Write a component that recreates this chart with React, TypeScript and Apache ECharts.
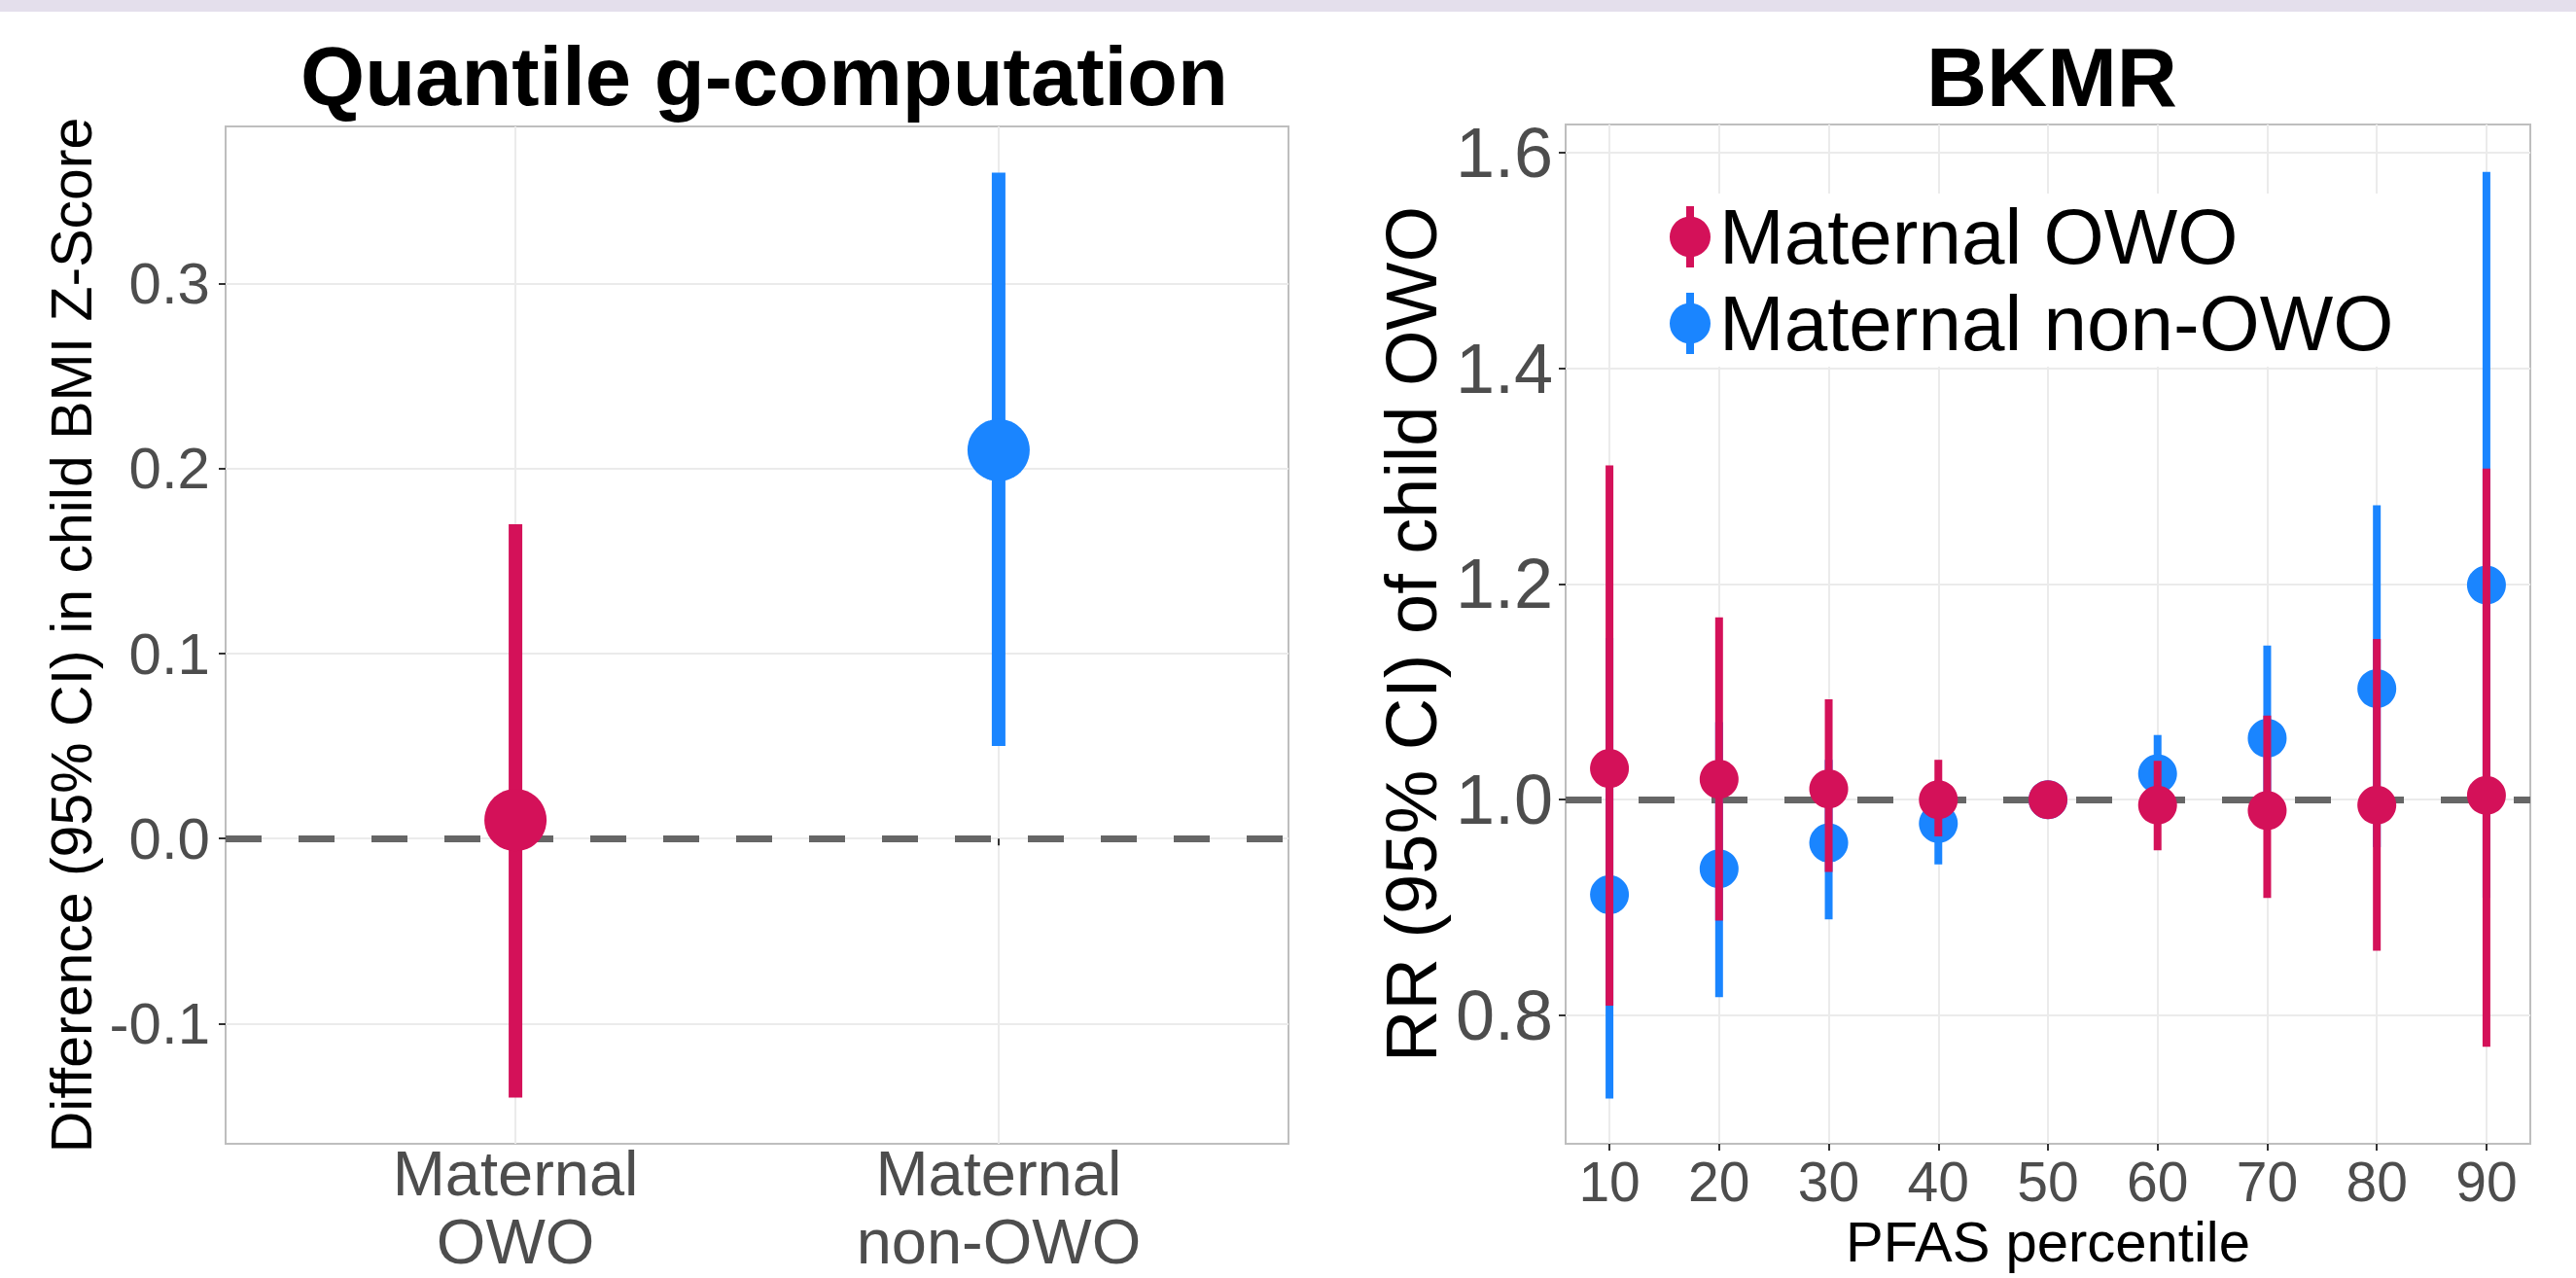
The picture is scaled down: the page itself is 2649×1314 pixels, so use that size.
import React, { useEffect, useRef } from "react";
import * as echarts from "echarts";

const W = 2649;
const H = 1314;
const RED = "#D41159";
const BLUE = "#1A85FF";
const FONT = "'Liberation Sans', Arial, Helvetica, sans-serif";
const TICK_GREY = "#4D4D4D";

// ---- Left panel: Quantile g-computation ----
const leftTitle = "Quantile g-computation";
const qgcCategories = ["Maternal\nOWO", "Maternal\nnon-OWO"];
const qgcEstimate = [0.01, 0.21];
const qgcLower = [-0.14, 0.05];
const qgcUpper = [0.17, 0.36];
const qgcYTicks = [-0.1, 0, 0.1, 0.2, 0.3];
const qgcReference = 0;
const qgcYName = "Difference (95% CI) in child BMI Z-Score";

// ---- Right panel: BKMR ----
const rightTitle = "BKMR";
const groupNames = ["Maternal OWO", "Maternal non-OWO"];
const percentiles = [10, 20, 30, 40, 50, 60, 70, 80, 90];
const owoEstimate = [1.029, 1.019, 1.01, 1.0, 1.0, 0.995, 0.99, 0.995, 1.004];
const owoLower = [0.809, 0.888, 0.933, 0.966, 1.0, 0.953, 0.909, 0.86, 0.771];
const owoUpper = [1.31, 1.169, 1.093, 1.037, 1.0, 1.036, 1.078, 1.149, 1.307];
const nonEstimate = [0.912, 0.936, 0.96, 0.978, 1.0, 1.024, 1.057, 1.103, 1.199];
const nonLower = [0.723, 0.817, 0.889, 0.94, 1.0, 0.989, 0.977, 0.956, 0.909];
const nonUpper = [1.15, 1.072, 1.037, 1.018, 1.0, 1.06, 1.143, 1.273, 1.582];
const rrYTicks = [0.8, 1.0, 1.2, 1.4, 1.6];
const rrReference = 1;
const rrYName = "RR (95% CI) of child OWO";
const rrXName = "PFAS percentile";

const legendIcon =
  "path://M17 0 L25 0 L25 10.88 A21 21 0 0 1 25 52.12 L25 63 L17 63 L17 52.12 A21 21 0 0 1 17 10.88 Z";

function pointRange(barWidth: number, radius: number, colors?: string[]) {
  return (params: any, api: any) => {
    const x = api.value(0);
    const est = api.value(1);
    const lo = api.value(2);
    const hi = api.value(3);
    const pLo = api.coord([x, lo]);
    const pHi = api.coord([x, hi]);
    const pE = api.coord([x, est]);
    const c = colors ? colors[params.dataIndex] : api.visual("color");
    return {
      type: "group",
      children: [
        {
          type: "rect",
          shape: { x: pHi[0] - barWidth / 2, y: pHi[1], width: barWidth, height: Math.max(0, pLo[1] - pHi[1]) },
          style: { fill: c },
        },
        { type: "circle", shape: { cx: pE[0], cy: pE[1], r: radius }, style: { fill: c } },
      ],
    };
  };
}

const gridLine = { show: true, lineStyle: { color: "#EBEBEB", width: 2 } };
const tickStyle = { show: true, inside: false, length: 7, lineStyle: { color: "#333333", width: 2 } };
const dashStyle = { color: "#666666", width: 7, type: [37, 38] as number[] };

export default function App() {
  const ref = useRef<HTMLDivElement>(null);
  useEffect(() => {
    if (!ref.current) return;
    const chart = echarts.init(ref.current, undefined, { renderer: "svg", width: W, height: H });
    const qgcData = qgcEstimate.map((e, i) => [i + 1, e, qgcLower[i], qgcUpper[i]]);
    const owoData = percentiles.map((p, i) => [p, owoEstimate[i], owoLower[i], owoUpper[i]]);
    const nonData = percentiles.map((p, i) => [p, nonEstimate[i], nonLower[i], nonUpper[i]]);

    const option: any = {
      animation: false,
      backgroundColor: "#ffffff",
      textStyle: { fontFamily: FONT },
      graphic: [
        { type: "rect", left: 0, top: 0, shape: { width: W, height: 12 }, style: { fill: "#E4DFEC" }, silent: true },
      ],
      title: [
        {
          text: leftTitle,
          left: 786,
          top: 36,
          textAlign: "center",
          padding: 0,
          textStyle: { fontFamily: FONT, fontSize: 85, fontWeight: "bold", color: "#000" },
        },
        {
          text: rightTitle,
          left: 2110,
          top: 36,
          textAlign: "center",
          padding: 0,
          textStyle: { fontFamily: FONT, fontSize: 86, fontWeight: "bold", color: "#000" },
        },
      ],
      legend: {
        data: groupNames,
        orient: "vertical",
        left: 1683,
        top: 199,
        padding: [0, 30, 0, 34],
        backgroundColor: "#ffffff",
        itemWidth: 42,
        itemHeight: 63,
        itemGap: 0,
        icon: legendIcon,
        selectedMode: false,
        textStyle: { fontFamily: FONT, fontSize: 80, color: "#000", lineHeight: 89, padding: [0, 0, 0, 4] },
        z: 10,
      },
      grid: [
        {
          left: 232, top: 130, width: 1093, height: 1046, show: true, borderColor: "#BEBEBE", borderWidth: 2,
          backgroundColor: "transparent", outerBoundsMode: "none", containLabel: false,
        },
        {
          left: 1610, top: 128, width: 992, height: 1048, show: true, borderColor: "#BEBEBE", borderWidth: 2,
          backgroundColor: "transparent", outerBoundsMode: "none", containLabel: false,
        },
      ],
      xAxis: [
        {
          type: "value",
          gridIndex: 0,
          min: 0.4,
          max: 2.6,
          axisLine: { show: false },
          axisTick: { ...tickStyle, customValues: [1, 2] },
          splitLine: gridLine,
          axisLabel: {
            customValues: [1, 2],
            formatter: (v: number) => qgcCategories[Math.round(v) - 1] ?? "",
            color: TICK_GREY,
            fontFamily: FONT,
            fontSize: 65,
            lineHeight: 70,
            margin: -5,
          },
        },
        {
          type: "value",
          gridIndex: 1,
          min: 6,
          max: 94,
          name: rrXName,
          nameLocation: "middle",
          nameGap: 71,
          nameTextStyle: { fontFamily: FONT, fontSize: 58, color: "#000" },
          axisLine: { show: false },
          axisTick: { ...tickStyle, customValues: percentiles },
          splitLine: gridLine,
          axisLabel: {
            customValues: percentiles,
            formatter: (v: number) => String(v),
            color: TICK_GREY,
            fontFamily: FONT,
            fontSize: 57,
            margin: 10,
          },
        },
      ],
      yAxis: [
        {
          type: "value",
          gridIndex: 0,
          min: -0.165,
          max: 0.385,
          name: qgcYName,
          nameLocation: "middle",
          nameRotate: 90,
          nameGap: 129,
          nameTextStyle: { fontFamily: FONT, fontSize: 59, color: "#000" },
          axisLine: { show: false },
          axisTick: { ...tickStyle, customValues: qgcYTicks },
          splitLine: gridLine,
          axisLabel: {
            customValues: qgcYTicks,
            formatter: (v: number) => v.toFixed(1),
            color: TICK_GREY,
            fontFamily: FONT,
            fontSize: 60,
            margin: 16,
          },
        },
        {
          type: "value",
          gridIndex: 1,
          min: 0.681,
          max: 1.626,
          name: rrYName,
          nameLocation: "middle",
          nameRotate: 90,
          nameGap: 122,
          nameTextStyle: { fontFamily: FONT, fontSize: 74, color: "#000" },
          axisLine: { show: false },
          axisTick: { ...tickStyle, customValues: rrYTicks },
          splitLine: gridLine,
          axisLabel: {
            customValues: rrYTicks,
            formatter: (v: number) => v.toFixed(1),
            color: TICK_GREY,
            fontFamily: FONT,
            fontSize: 72,
            margin: 13,
          },
        },
      ],
      series: [
        {
          name: "qgc",
          type: "custom",
          xAxisIndex: 0,
          yAxisIndex: 0,
          z: 3,
          renderItem: pointRange(14, 32, [RED, BLUE]),
          encode: { x: 0, y: [1, 2, 3] },
          data: qgcData,
          markLine: {
            silent: true,
            z: 1,
            symbol: "none",
            label: { show: false },
            lineStyle: dashStyle,
            data: [{ yAxis: qgcReference }],
          },
        },
        {
          name: groupNames[1],
          type: "custom",
          xAxisIndex: 1,
          yAxisIndex: 1,
          z: 2,
          itemStyle: { color: BLUE },
          renderItem: pointRange(8, 20),
          encode: { x: 0, y: [1, 2, 3] },
          data: nonData,
          markLine: {
            silent: true,
            z: 1,
            symbol: "none",
            label: { show: false },
            lineStyle: dashStyle,
            data: [{ yAxis: rrReference }],
          },
        },
        {
          name: groupNames[0],
          type: "custom",
          xAxisIndex: 1,
          yAxisIndex: 1,
          z: 3,
          itemStyle: { color: RED },
          renderItem: pointRange(8, 20),
          encode: { x: 0, y: [1, 2, 3] },
          data: owoData,
        },
      ],
    };
    chart.setOption(option);
    return () => chart.dispose();
  }, []);
  return <div ref={ref} style={{ position: "fixed", left: 0, top: 0, width: W, height: H, background: "#fff" }} />;
}
